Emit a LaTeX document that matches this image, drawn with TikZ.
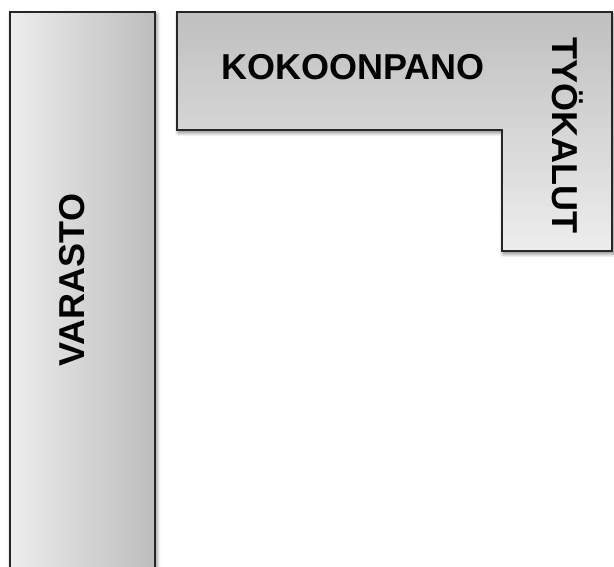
\documentclass[tikz,border=0pt]{standalone}
\usepackage{fontspec}
\setmainfont{Liberation Sans}
\usetikzlibrary{shadows.blur}

\begin{document}
\begin{tikzpicture}[x=1pt,y=-1pt,
  area/.style={draw=black!85,line width=1.6pt,
    blur shadow={shadow xshift=1.5pt,shadow yshift=-2.5pt,shadow blur steps=8,
      shadow blur radius=4pt,shadow opacity=55}},
  lbl/.style={font=\fontsize{36}{36}\selectfont\bfseries,inner sep=0pt}]
\useasboundingbox (0,0) rectangle (614,566);
% varasto
\path[area,left color=black!7,right color=black!26] (10,12) rectangle (155,590);
\path node[lbl,rotate=90] (varasto) at (72,280) {VARASTO};
% kokoonpano ja tyokalut
\path[area,top color=black!25,bottom color=black!7] (177,12) -- (612,12) -- (612,251) -- (502,251) -- (502,130) -- (177,130) -- cycle;
\path node[lbl] (kokoonpano) at (353,67) {KOKOONPANO};
\path node[lbl,rotate=-90] (tyokalut) at (568,135) {TYÖKALUT};
\end{tikzpicture}
\end{document}
